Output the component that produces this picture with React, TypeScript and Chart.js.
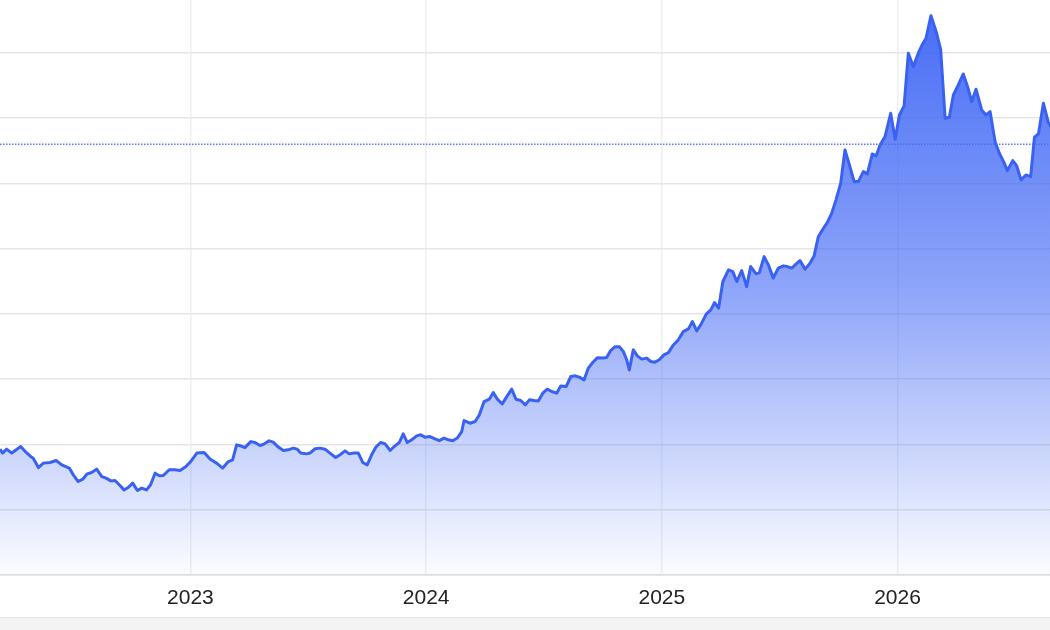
import React, { useRef, useEffect } from 'react';
import Chart from 'chart.js/auto';

// weekly observations, x as decimal year
const dates = [
    2022.192, 2022.203, 2022.220, 2022.242, 2022.280, 2022.302, 2022.322, 2022.333, 2022.355, 2022.376,
    2022.404, 2022.430, 2022.454, 2022.486, 2022.503, 2022.524, 2022.543, 2022.562, 2022.581, 2022.602,
    2022.624, 2022.642, 2022.662, 2022.680, 2022.698, 2022.718, 2022.736, 2022.755, 2022.775, 2022.793,
    2022.814, 2022.831, 2022.850, 2022.868, 2022.885, 2022.910, 2022.935, 2022.956, 2022.981, 2023.001,
    2023.027, 2023.058, 2023.083, 2023.111, 2023.137, 2023.161, 2023.179, 2023.196, 2023.213, 2023.231,
    2023.256, 2023.274, 2023.295, 2023.312, 2023.334, 2023.351, 2023.373, 2023.394, 2023.415, 2023.436,
    2023.453, 2023.468, 2023.493, 2023.507, 2023.529, 2023.550, 2023.571, 2023.592, 2023.616, 2023.635,
    2023.656, 2023.674, 2023.694, 2023.712, 2023.731, 2023.750, 2023.769, 2023.787, 2023.807, 2023.826,
    2023.847, 2023.864, 2023.886, 2023.903, 2023.920, 2023.939, 2023.960, 2023.977, 2023.995, 2024.016,
    2024.038, 2024.056, 2024.076, 2024.094, 2024.113, 2024.132, 2024.151, 2024.161, 2024.186, 2024.208,
    2024.226, 2024.246, 2024.268, 2024.285, 2024.302, 2024.323, 2024.342, 2024.363, 2024.381, 2024.401,
    2024.421, 2024.438, 2024.458, 2024.476, 2024.495, 2024.514, 2024.533, 2024.554, 2024.571, 2024.594,
    2024.614, 2024.632, 2024.650, 2024.670, 2024.688, 2024.707, 2024.726, 2024.749, 2024.766, 2024.783,
    2024.802, 2024.820, 2024.837, 2024.851, 2024.862, 2024.879, 2024.896, 2024.915, 2024.936, 2024.953,
    2024.971, 2024.989, 2025.009, 2025.028, 2025.049, 2025.070, 2025.091, 2025.113, 2025.130, 2025.148,
    2025.165, 2025.189, 2025.208, 2025.224, 2025.241, 2025.259, 2025.283, 2025.301, 2025.318, 2025.339,
    2025.360, 2025.377, 2025.400, 2025.414, 2025.434, 2025.452, 2025.473, 2025.494, 2025.516, 2025.533,
    2025.551, 2025.570, 2025.586, 2025.608, 2025.629, 2025.646, 2025.664, 2025.683, 2025.702, 2025.721,
    2025.739, 2025.759, 2025.777, 2025.796, 2025.816, 2025.834, 2025.855, 2025.872, 2025.893, 2025.909,
    2025.926, 2025.947, 2025.971, 2025.990, 2026.008, 2026.028, 2026.046, 2026.067, 2026.088, 2026.104,
    2026.121, 2026.142, 2026.164, 2026.183, 2026.202, 2026.220, 2026.237, 2026.258, 2026.279, 2026.298,
    2026.315, 2026.333, 2026.357, 2026.376, 2026.393, 2026.414, 2026.432, 2026.452, 2026.466, 2026.489,
    2026.506, 2026.524, 2026.545, 2026.565, 2026.581, 2026.598, 2026.619, 2026.640, 2026.656,
];

const prices = [
    1963, 1933, 1963, 1933, 1983, 1940, 1907, 1894, 1822, 1856,
    1861, 1876, 1843, 1818, 1766, 1715, 1733, 1774, 1784, 1810,
    1753, 1741, 1720, 1723, 1690, 1651, 1669, 1703, 1646, 1664,
    1651, 1690, 1779, 1759, 1761, 1805, 1805, 1799, 1830, 1868,
    1933, 1937, 1887, 1856, 1818, 1868, 1881, 1996, 1989, 1975,
    2021, 2014, 1991, 2002, 2027, 2017, 1979, 1953, 1958, 1971,
    1963, 1933, 1927, 1933, 1966, 1971, 1963, 1933, 1899, 1920,
    1950, 1927, 1933, 1933, 1861, 1843, 1920, 1979, 2014, 2004,
    1953, 1983, 2014, 2080, 2014, 2035, 2065, 2073, 2055, 2060,
    2042, 2029, 2048, 2035, 2027, 2048, 2098, 2182, 2162, 2175,
    2226, 2328, 2346, 2397, 2346, 2310, 2366, 2423, 2346, 2336,
    2303, 2341, 2336, 2333, 2392, 2423, 2405, 2392, 2448, 2443,
    2520, 2525, 2515, 2494, 2584, 2627, 2663, 2661, 2665, 2719,
    2749, 2749, 2711, 2648, 2571, 2724, 2678, 2653, 2661, 2635,
    2630, 2648, 2686, 2703, 2762, 2801, 2864, 2885, 2941, 2870,
    2916, 3000, 3031, 3087, 3044, 3248, 3337, 3324, 3248, 3332,
    3209, 3363, 3307, 3317, 3439, 3376, 3274, 3350, 3368, 3363,
    3350, 3383, 3408, 3343, 3389, 3444, 3592, 3649, 3700, 3772,
    3874, 4002, 4257, 4142, 4014, 4014, 4090, 4073, 4226, 4211,
    4295, 4359, 4538, 4339, 4525, 4594, 4998, 4895, 4998, 5061,
    5113, 5286, 5163, 5028, 4500, 4507, 4678, 4755, 4839, 4737,
    4627, 4722, 4563, 4525, 4550, 4320, 4231, 4159, 4098, 4175,
    4134, 4027, 4065, 4052, 4354, 4379, 4615, 4466, 4425,
];

const yearTicks = [2023, 2024, 2025, 2026];
const priceGrid = [1000, 1500, 2000, 2500, 3000, 3500, 4000, 4500, 5000];
const referenceLevel = 4300;
const xMin = 2022.192;
const xMax = 2026.647;
const yMin = 1000;
const yMax = 5406;

const App: React.FC = () => {
    const chartRef = useRef<HTMLCanvasElement | null>(null);
    const chartInstanceRef = useRef<Chart | null>(null);

    useEffect(() => {
        document.body.style.margin = '0';
        if (!chartRef.current) return;
        const ctx = chartRef.current.getContext('2d');
        if (!ctx) return;

        const points = dates.map((d, i) => ({ x: d, y: prices[i] }));
        const refPoints = [{ x: xMin, y: referenceLevel }, { x: xMax, y: referenceLevel }];

        chartInstanceRef.current = new Chart(ctx, {
            type: 'line',
            data: {
                datasets: [
                    {
                        label: 'Reference',
                        data: refPoints,
                        borderColor: 'rgba(70, 105, 245, 0.9)',
                        borderWidth: 1.5,
                        borderDash: [1.5, 1.5],
                        pointRadius: 0,
                        fill: false,
                        order: 0,
                    },
                    {
                        label: 'Price',
                        data: points,
                        borderColor: '#3a62f2',
                        borderWidth: 3,
                        borderJoinStyle: 'round',
                        pointRadius: 0,
                        tension: 0,
                        fill: 'start',
                        order: 1,
                        backgroundColor: (context: any) => {
                            const { chart } = context;
                            const area = chart.chartArea;
                            if (!area) return 'rgba(59, 99, 245, 0.4)';
                            const g = chart.ctx.createLinearGradient(0, area.top, 0, area.bottom);
                            g.addColorStop(0, 'rgba(59, 99, 245, 0.95)');
                            g.addColorStop(0.5, 'rgba(59, 99, 245, 0.58)');
                            g.addColorStop(0.8, 'rgba(59, 99, 245, 0.25)');
                            g.addColorStop(1, 'rgba(59, 99, 245, 0.02)');
                            return g;
                        },
                    },
                ],
            },
            options: {
                animation: false,
                responsive: true,
                maintainAspectRatio: false,
                layout: { padding: 0 },
                plugins: {
                    legend: { display: false },
                    tooltip: { enabled: false },
                },
                scales: {
                    x: {
                        type: 'linear',
                        min: xMin,
                        max: xMax,
                        afterBuildTicks: (scale: any) => {
                            scale.ticks = yearTicks.map((v) => ({ value: v }));
                        },
                        ticks: {
                            autoSkip: false,
                            maxRotation: 0,
                            padding: 11,
                            color: '#222',
                            font: { family: "'Liberation Sans', Arial, sans-serif", size: 21 },
                            callback: (value: any) => String(value),
                        },
                        grid: { color: '#edf0f5', lineWidth: 1.5, drawTicks: false },
                        border: { display: true, color: '#dedede', width: 1.5 },
                    },
                    y: {
                        min: yMin,
                        max: yMax,
                        afterBuildTicks: (scale: any) => {
                            scale.ticks = priceGrid.map((v) => ({ value: v }));
                        },
                        ticks: { display: false },
                        grid: { color: '#e6e6e6', lineWidth: 1.5, drawTicks: false },
                        border: { display: false },
                    },
                },
            },
        });

        return () => {
            if (chartInstanceRef.current) {
                chartInstanceRef.current.destroy();
                chartInstanceRef.current = null;
            }
        };
    }, []);

    return (
        <div style={{ position: 'relative', width: 1050, height: 630, overflow: 'hidden' }}>
            <div style={{ position: 'relative', width: 1050, height: 622 }}>
                <canvas ref={chartRef} />
            </div>
            <div
                style={{
                    position: 'absolute',
                    left: 0,
                    top: 617,
                    width: 1050,
                    height: 13,
                    background: '#f3f3f3',
                    borderTop: '1px solid #e3e3e3',
                }}
            />
        </div>
    );
};

export default App;
